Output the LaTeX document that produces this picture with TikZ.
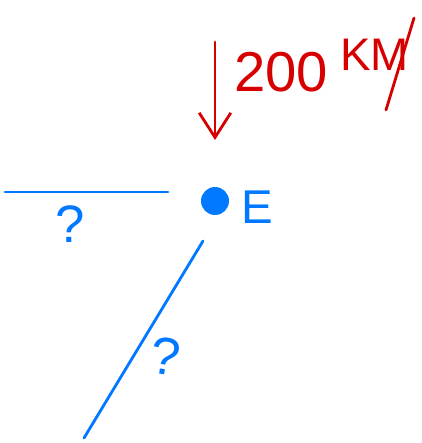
\documentclass[tikz,border=0pt]{standalone}
\usepackage{fontspec}
\setmainfont{Liberation Sans}
\usetikzlibrary{arrows.meta}
\definecolor{penblue}{RGB}{0,120,255}
\definecolor{penred}{RGB}{215,0,0}
\tikzset{
  blueline/.style={draw=penblue, line width=1.6pt, line cap=round},
  redline/.style={draw=penred, line width=1.6pt, line cap=round},
  bluetext/.style={text=penblue, inner sep=0pt},
  redtext/.style={text=penred, inner sep=0pt}
}
\begin{document}
\begin{tikzpicture}[x=0.02cm, y=-0.02cm]
  \useasboundingbox (0,0) rectangle (422,443);
  % horizontal line
  \coordinate (h1) at (5,192);
  \coordinate (h2) at (168,192);
  \draw[blueline] (h1) -- (h2);
  % point E
  \node[circle, fill=penblue, minimum size=0.56cm, inner sep=0pt] (dot) at (215,201) {};
  \node[bluetext, font=\fontsize{27}{29}\selectfont] (E) at (257,207) {E};
  % slanted line
  \coordinate (s1) at (203,241);
  \coordinate (s2) at (84,438);
  \draw[blueline] (s1) -- (s2);
  % question marks
  \node[bluetext, font=\fontsize{30}{32}\selectfont] (q1) at (70,224) {?};
  \node[bluetext, font=\fontsize{30}{32}\selectfont, rotate=-8] (q2) at (166,356) {?};
  % red arrow
  \coordinate (a1) at (215,42);
  \coordinate (a2) at (215,140);
  \draw[redline, -{Straight Barb[length=14pt, width=18pt, line width=1.6pt]}] (a1) -- (a2);
  % distance label
  \node[redtext, font=\fontsize{32}{34}\selectfont, anchor=west] (d200) at (234,72) {200};
  \node[redtext, font=\fontsize{26}{28}\selectfont, anchor=west] (km) at (340,55) {KM};
  \coordinate (m1) at (414,18);
  \coordinate (m2) at (386,110);
  \draw[redline] (m1) -- (m2);
\end{tikzpicture}
\end{document}
